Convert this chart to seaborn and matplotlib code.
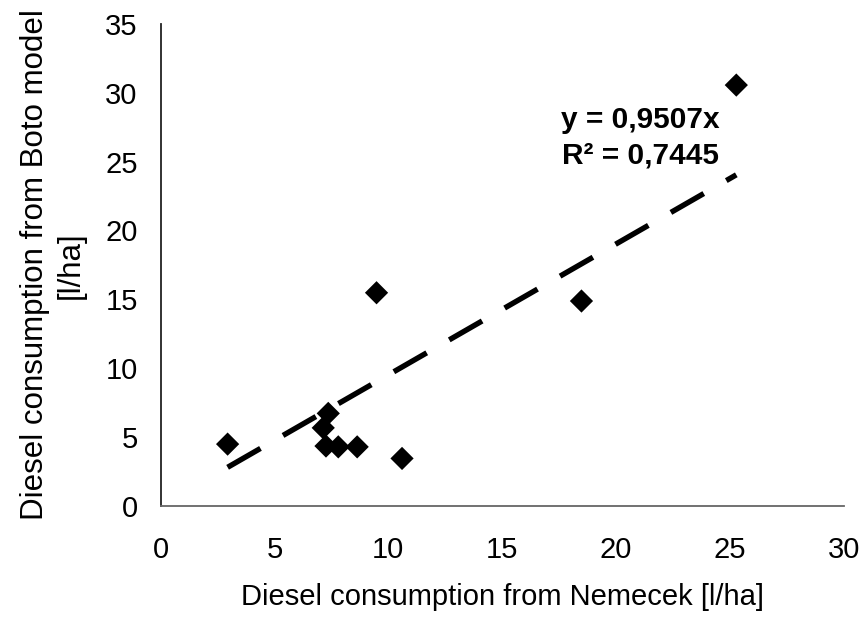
"""Scatter of diesel consumption: Nemecek vs Boto model, with trend line through origin."""
import matplotlib
matplotlib.use("Agg")
import matplotlib.pyplot as plt
import numpy as np
import pandas as pd
import seaborn as sns

# values
nemecek = [2.94, 7.14, 7.26, 7.36, 7.80, 8.63, 9.48, 10.6, 18.48, 25.28]
boto = [4.48, 5.66, 4.34, 6.71, 4.28, 4.28, 15.47, 3.44, 14.87, 30.55]
slope = 0.9507
r_squared = 0.7445
x_ticks = [0, 5, 10, 15, 20, 25, 30]
y_ticks = [0, 5, 10, 15, 20, 25, 30, 35]

df = pd.DataFrame({"nemecek": nemecek, "boto": boto})

sns.set_theme(style="white")
plt.rcParams["font.family"] = ["Liberation Sans", "DejaVu Sans"]
plt.rcParams["text.color"] = "black"
plt.rcParams["axes.labelcolor"] = "black"

fig = plt.figure(figsize=(8.61, 6.26), dpi=100)
ax = fig.add_axes([0.1866, 0.192, 0.7934, 0.770])

# trend line y = slope * x over the data range
fit_x = np.array([df.nemecek.min(), df.nemecek.max()])
fit = pd.DataFrame({"x": fit_x, "y": slope * fit_x})
sns.lineplot(data=fit, x="x", y="y", ax=ax, color="black", lw=3.9,
             dashes=False, zorder=2)
ax.lines[-1].set_dashes((7, 4.8))
ax.lines[-1].set_dash_capstyle("butt")

sns.scatterplot(data=df, x="nemecek", y="boto", ax=ax, marker="D", s=140,
                color="black", edgecolor="none", zorder=3)

ax.set_xlim(0, 30)
ax.set_ylim(0, 35)
ax.set_xticks(x_ticks)
ax.set_yticks(y_ticks)
ax.tick_params(axis="both", direction="out", length=6.5, width=1.2,
               color="#555555", labelsize=21, labelcolor="black")
ax.tick_params(axis="x", pad=15)
ax.tick_params(axis="y", pad=10)

for side in ["top", "right"]:
    ax.spines[side].set_visible(False)
ax.spines["left"].set_color("#222222")
ax.spines["bottom"].set_color("#666666")
for side in ["left", "bottom"]:
    ax.spines[side].set_linewidth(1.3)

ax.set_xlabel("Diesel consumption from Nemecek [l/ha]", fontsize=21, labelpad=14)
ax.set_ylabel("Diesel consumption from Boto model\n[l/ha]", fontsize=22.5,
              labelpad=14, linespacing=1.25)

ax.text(0.702, 0.763, f"y = {slope:.4f}x\nR² = {r_squared:.4f}".replace(".", ","),
        transform=ax.transAxes, ha="center", va="center", fontsize=21.5,
        fontweight="bold", linespacing=1.35)

fig.savefig("out.png", dpi=100)
